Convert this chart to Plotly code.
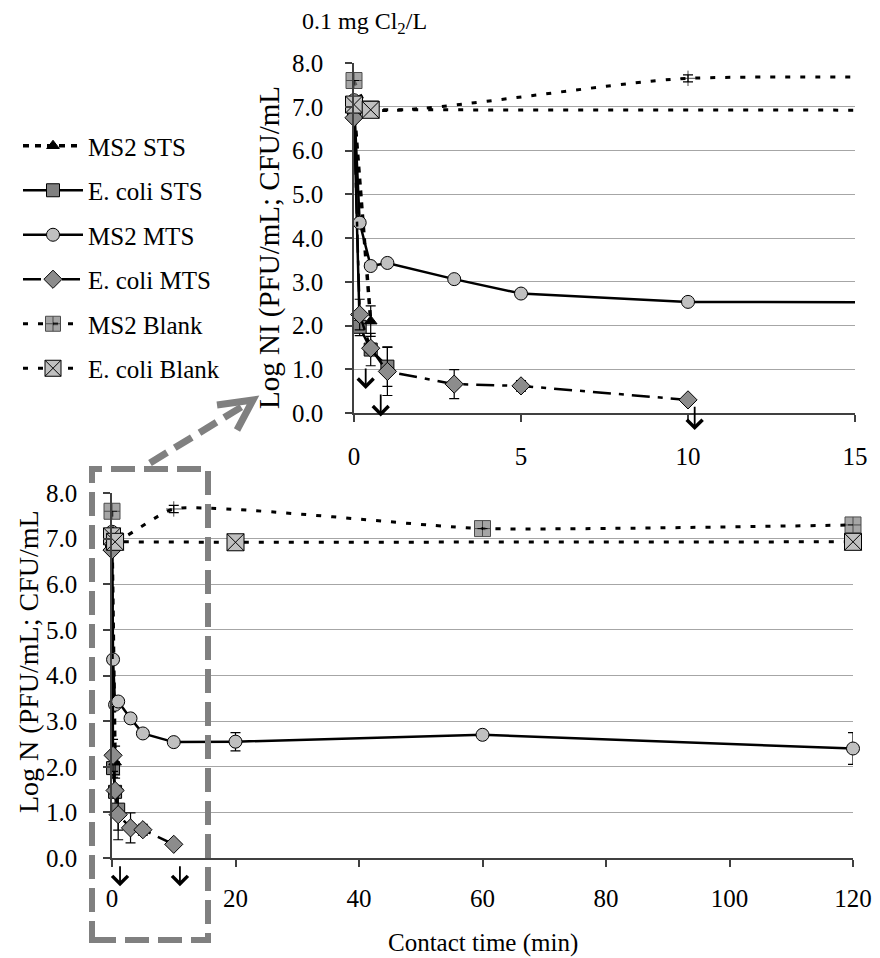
import plotly.graph_objects as go

OFF = 8                      # page margin of the html body
W, H = 880 - OFF, 958 - OFF  # figure size that fills the window
FONT = "Liberation Serif"

# ---------------- data ----------------
t_ms2_sts = [0, 0.5]
y_ms2_sts = [7.0, 2.1]
e_ms2_sts = [0, 0.35]

t_ec_sts = [0, 0.17, 0.5, 1]
y_ec_sts = [6.85, 1.97, 1.45, 1.06]
e_ec_sts = [0, 0.2, 0.37, 0.45]

t_ms2_mts = [0, 0.17, 0.5, 1, 3, 5, 10, 20, 60, 120]
y_ms2_mts = [7.15, 4.35, 3.36, 3.43, 3.06, 2.73, 2.54, 2.55, 2.70, 2.40]
e_ms2_mts = [0, 0, 0, 0, 0, 0, 0, 0.2, 0.05, 0.35]

t_ec_mts = [0, 0.17, 0.5, 1, 3, 5, 10]
y_ec_mts = [6.75, 2.25, 1.48, 0.95, 0.66, 0.62, 0.30]
e_ec_mts = [0, 0.35, 0.1, 0.55, 0.33, 0.12, 0]

t_ms2_blank = [0, 0.5, 10, 60, 120]
y_ms2_blank = [7.6, 6.95, 7.65, 7.22, 7.30]
e_ms2_blank = [0, 0.05, 0.08, 0, 0]

t_ec_blank = [0, 0.5, 20, 120]
y_ec_blank = [7.05, 6.93, 6.92, 6.93]
e_ec_blank = [0, 0.06, 0, 0]

# below-detection-limit arrows: time, tail value, tip value
arr_main_t = [1.3, 11]
arr_main_from = [-0.15, -0.15]
arr_main_to = [-0.62, -0.62]
arr_ins_t = [0.35, 0.8, 10.2]
arr_ins_from = [1.05, 0.46, 0.18]
arr_ins_to = [0.55, -0.08, -0.39]

x_ticks_main = [0, 20, 40, 60, 80, 100, 120]
x_ticks_inset = [0, 5, 10, 15]
y_ticks = [0, 1, 2, 3, 4, 5, 6, 7, 8]
y_max = 8

series = {
    "MS2 STS": (t_ms2_sts, y_ms2_sts, e_ms2_sts),
    "E. coli STS": (t_ec_sts, y_ec_sts, e_ec_sts),
    "MS2 MTS": (t_ms2_mts, y_ms2_mts, e_ms2_mts),
    "E. coli MTS": (t_ec_mts, y_ec_mts, e_ec_mts),
    "MS2 Blank": (t_ms2_blank, y_ms2_blank, e_ms2_blank),
    "E. coli Blank": (t_ec_blank, y_ec_blank, e_ec_blank),
}

# ---------------- styles ----------------
ms2_blank_symbols = ["square-cross", "square-cross", "cross-thin", "square-cross", "square-cross"]
ms2_blank_sizes = [16, 16, 11, 16, 16]
styles = {
    "MS2 STS": dict(line=dict(color="black", width=3.5, dash="6px,6px"), shape="linear",
                    marker=dict(symbol="triangle-up", size=11, color="black",
                                line=dict(color="black", width=1))),
    "E. coli STS": dict(line=dict(color="black", width=2.5), shape="linear",
                        marker=dict(symbol="square", size=13, color="#808080",
                                    line=dict(color="black", width=1))),
    "MS2 MTS": dict(line=dict(color="black", width=2.5), shape="linear",
                    marker=dict(symbol="circle", size=13, color="#c0c0c0",
                                line=dict(color="black", width=1))),
    "E. coli MTS": dict(line=dict(color="black", width=2.5, dash="18px,8px,5px,8px"), shape="linear",
                        marker=dict(symbol="diamond", size=14, color="#8c8c8c",
                                    line=dict(color="black", width=1))),
    "MS2 Blank": dict(line=dict(color="black", width=3, dash="5px,10px", smoothing=0.5),
                      shape="spline",
                      marker=dict(symbol=ms2_blank_symbols, size=ms2_blank_sizes, color="#808080",
                                  line=dict(color="black", width=1))),
    "E. coli Blank": dict(line=dict(color="black", width=3, dash="5px,10px"), shape="linear",
                          marker=dict(symbol="square-x", size=17, color="#c0c0c0",
                                      line=dict(color="black", width=1))),
}
legend_rank = {n: i + 1 for i, n in enumerate(series)}
draw_order = ["E. coli STS", "MS2 STS", "MS2 MTS", "E. coli MTS", "MS2 Blank", "E. coli Blank"]


def errs(e):
    return [v if v > 0 else None for v in e]


def sub_marker(marker, idx):
    out = {}
    for k, v in marker.items():
        out[k] = [v[i] for i in idx] if isinstance(v, list) else v
    return out


def ebar(e):
    return dict(type="data", array=errs(e), color="black", thickness=1.2, width=5, visible=True)


fig = go.Figure()
for name in draw_order:
    t, y, e = series[name]
    st = styles[name]
    # main chart
    fig.add_trace(go.Scatter(
        x=t, y=y, mode="lines+markers", name=name, legendgroup=name,
        legendrank=legend_rank[name], line=st["line"], line_shape=st["shape"],
        marker=st["marker"], error_y=ebar(e), cliponaxis=False,
        xaxis="x", yaxis="y"))
    # inset: lines (clipped) + markers within range
    fig.add_trace(go.Scatter(
        x=t, y=y, mode="lines", line=st["line"], line_shape=st["shape"],
        showlegend=False, legendgroup=name, cliponaxis=True, hoverinfo="skip",
        xaxis="x2", yaxis="y2"))
    idx = [i for i, v in enumerate(t) if v <= x_ticks_inset[-1]]
    fig.add_trace(go.Scatter(
        x=[t[i] for i in idx], y=[y[i] for i in idx], mode="markers",
        marker=sub_marker(st["marker"], idx), error_y=ebar([e[i] for i in idx]),
        showlegend=False, legendgroup=name, cliponaxis=False,
        xaxis="x2", yaxis="y2"))


# window pixel -> paper fraction
def px(p):
    return (p - OFF) / W


def py(p):
    return 1 - (p - OFF) / H


MAIN_L, MAIN_R, MAIN_T, MAIN_B = 112, 853, 493, 858
INS_L, INS_R, INS_T, INS_B = 354, 855, 63, 413

axis_common = dict(showline=True, linecolor="#404040", linewidth=1.5, ticks="outside",
                   ticklen=7, tickcolor="#404040", tickwidth=1.5, zeroline=False,
                   automargin=False,
                   tickfont=dict(family=FONT, size=25, color="black"))
yaxis_common = dict(range=[0, y_max], tickvals=y_ticks, tickformat=".1f", showgrid=True,
                    gridcolor="#a6a6a6", gridwidth=1, **axis_common)

fig.update_layout(
    width=W, height=H, template="none",
    margin=dict(l=0, r=0, t=0, b=0),
    paper_bgcolor="white", plot_bgcolor="white",
    xaxis=dict(domain=[px(MAIN_L), px(MAIN_R)], range=[0, 120], tickvals=x_ticks_main,
               anchor="y", showgrid=False, ticklabelstandoff=10, **axis_common),
    yaxis=dict(domain=[py(MAIN_B), py(MAIN_T)], anchor="x", ticklabelstandoff=21,
               **yaxis_common),
    xaxis2=dict(domain=[px(INS_L), px(INS_R)], range=[0, 15], tickvals=x_ticks_inset,
                anchor="y2", showgrid=False, ticklabelstandoff=13, **axis_common),
    yaxis2=dict(domain=[py(INS_B), py(INS_T)], anchor="x2", ticklabelstandoff=17,
                **yaxis_common),
    showlegend=True,
    legend=dict(x=px(18), y=py(123), xanchor="left", yanchor="top",
                font=dict(family=FONT, size=25, color="black"),
                itemwidth=60, traceorder="grouped", tracegroupgap=9,
                bgcolor="rgba(0,0,0,0)", borderwidth=0),
    font=dict(family=FONT, color="black"),
)

ann = []
# axis titles
ann.append(dict(text="Contact time (min)", x=px(483), y=py(943), xref="paper", yref="paper",
                showarrow=False, font=dict(family=FONT, size=25, color="black"),
                xanchor="center", yanchor="middle"))
ann.append(dict(text="Log N (PFU/mL; CFU/mL", x=px(28), y=py(662), xref="paper", yref="paper",
                showarrow=False, textangle=-90, font=dict(family=FONT, size=28, color="black"),
                xanchor="center", yanchor="middle"))
ann.append(dict(text="Log NI (PFU/mL; CFU/mL", x=px(269), y=py(248), xref="paper", yref="paper",
                showarrow=False, textangle=-90, font=dict(family=FONT, size=29, color="black"),
                xanchor="center", yanchor="middle"))
ann.append(dict(text="0.1 mg Cl<sub>2</sub>/L", x=px(300), y=py(23), xref="paper", yref="paper",
                showarrow=False, font=dict(family=FONT, size=24, color="black"),
                xanchor="left", yanchor="middle"))

# detection-limit arrows (main chart: below the axis, placed via the domain mapping)
main_dom0, main_dom1 = py(MAIN_B), py(MAIN_T)
main_px_per_unit = (MAIN_B - MAIN_T) / y_max
for t, a, b in zip(arr_main_t, arr_main_from, arr_main_to):
    ann.append(dict(x=t, y=main_dom0 + b / y_max * (main_dom1 - main_dom0),
                    xref="x", yref="paper", axref="pixel", ayref="pixel",
                    ax=0, ay=-(a - b) * main_px_per_unit,
                    text="", showarrow=True, arrowhead=4, arrowsize=1.7, arrowwidth=1.8,
                    arrowcolor="black"))
for t, a, b in zip(arr_ins_t, arr_ins_from, arr_ins_to):
    ann.append(dict(x=t, y=b, ax=t, ay=a, xref="x2", yref="y2", axref="x2", ayref="y2",
                    text="", showarrow=True, arrowhead=4, arrowsize=1.7, arrowwidth=1.8,
                    arrowcolor="black"))
fig.update_layout(annotations=ann)

# zoom box and dashed arrow
gray = "#808080"
shapes = [
    dict(type="rect", xref="paper", yref="paper", x0=px(92), x1=px(208), y0=py(940), y1=py(469),
         line=dict(color=gray, width=6, dash="24px,9px")),
    dict(type="line", xref="paper", yref="paper", x0=px(150), y0=py(463), x1=px(248), y1=py(403),
         line=dict(color=gray, width=7, dash="20px,9px")),
    dict(type="path", xref="paper", yref="paper",
         path="M {:.5f},{:.5f} L {:.5f},{:.5f} L {:.5f},{:.5f}".format(
             px(217), py(405), px(253), py(400), px(237), py(430)),
         line=dict(color=gray, width=7)),
]
fig.update_layout(shapes=shapes)

fig.write_html("out.html")
